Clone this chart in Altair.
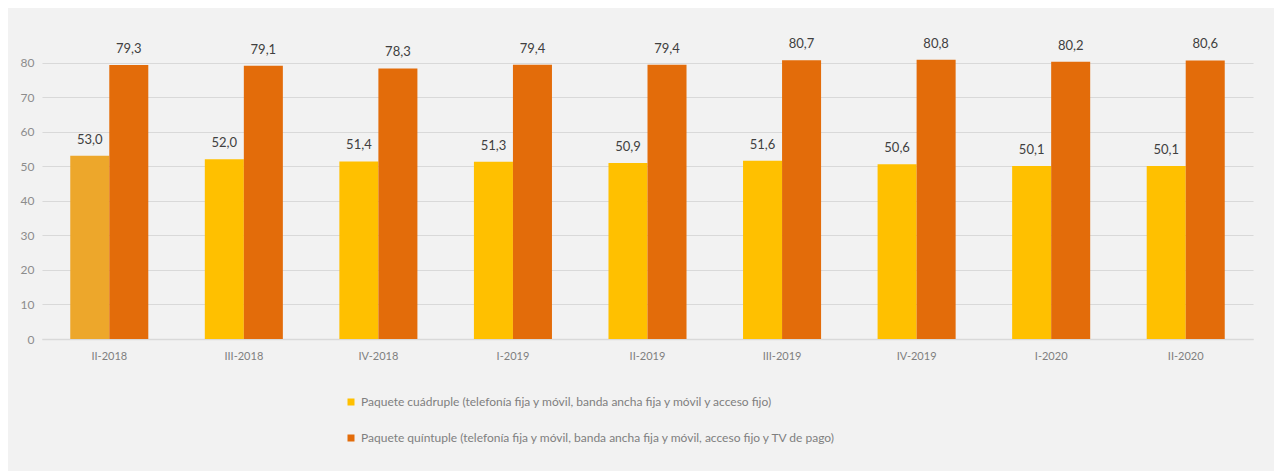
import altair as alt
import pandas as pd

periods = ["II-2018", "III-2018", "IV-2018", "I-2019", "II-2019", "III-2019", "IV-2019", "I-2020", "II-2020"]
cuadruple = [53.0, 52.0, 51.4, 51.3, 50.9, 51.6, 50.6, 50.1, 50.1]
quintuple = [79.3, 79.1, 78.3, 79.4, 79.4, 80.7, 80.8, 80.2, 80.6]
series_names = [
    "Paquete cuádruple (telefonía fija y móvil, banda ancha fija y móvil y acceso fijo)",
    "Paquete quíntuple (telefonía fija y móvil, banda ancha fija y móvil, acceso fijo y TV de pago)",
]
series_colors = ["#FFC000", "#E36C0A"]
highlight_color = "#EDA72B"
y_ticks = [0, 10, 20, 30, 40, 50, 60, 70, 80]

rows = []
for i, p in enumerate(periods):
    rows.append({"periodo": p, "serie": series_names[0], "orden": 0, "valor": cuadruple[i]})
    rows.append({"periodo": p, "serie": series_names[1], "orden": 1, "valor": quintuple[i]})
df = pd.DataFrame(rows)

FONT = "Lato"

x_enc = alt.X("periodo:N", sort=periods, title=None,
              scale=alt.Scale(paddingInner=0.42, paddingOuter=0.21),
              axis=alt.Axis(labelAngle=0, labelColor="#7f7f7f", labelFontSize=11,
                            labelPadding=11, ticks=False, domainColor="#d9d9d9",
                            domainWidth=1.5, labelFont=FONT))
xoff = alt.XOffset("orden:O")
y_enc = alt.Y("valor:Q", title=None,
              scale=alt.Scale(domain=[0, 90], nice=False),
              axis=alt.Axis(values=y_ticks, labelColor="#8c8c8c", labelFontSize=12,
                            labelPadding=8, ticks=False, domain=False, labelOverlap=False,
                            gridColor="#d9d9d9", labelFont=FONT))

bars = alt.Chart(df).mark_bar().encode(
    x=x_enc,
    xOffset=xoff,
    y=y_enc,
    color=alt.condition(
        (alt.datum.periodo == periods[0]) & (alt.datum.orden == 0),
        alt.value(highlight_color),
        alt.Color("serie:N", sort=series_names,
                  scale=alt.Scale(domain=series_names, range=series_colors),
                  legend=alt.Legend(title=None, orient="none", legendX=303, legendY=368,
                                    direction="vertical", symbolType="square",
                                    symbolSize=49, symbolStrokeWidth=0,
                                    labelFontSize=12, labelColor="#7f7f7f",
                                    labelFont=FONT, rowPadding=24, padding=0,
                                    labelOffset=4, labelLimit=800)),
    ),
)

labels = alt.Chart(df).transform_calculate(
    etiqueta="replace(format(datum.valor, '.1f'), '.', ',')"
).mark_text(baseline="bottom", dy=-9, fontSize=13, color="#404040", font=FONT).encode(
    x=x_enc,
    xOffset=xoff,
    y=y_enc,
    text="etiqueta:N",
)

chart = alt.layer(bars, labels).properties(
    width=1211, height=311,
    padding={"left": 34, "right": 21, "top": 20, "bottom": 140},
    autosize=alt.AutoSizeParams(type="none"),
    background="#f2f2f2",
).configure_view(stroke=None)

chart.save("out.html", embed_options={"renderer": "svg", "actions": False})
